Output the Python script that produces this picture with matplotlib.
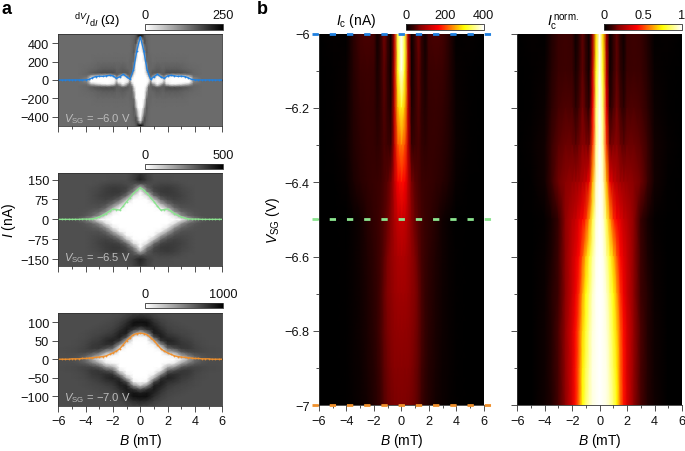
import numpy as np
import matplotlib
matplotlib.use('Agg')
import matplotlib.pyplot as plt
from matplotlib.colors import LinearSegmentedColormap

plt.rcParams['font.family'] = ['Liberation Sans', 'DejaVu Sans']
plt.rcParams['mathtext.fontset'] = 'custom'
plt.rcParams['mathtext.rm'] = 'Liberation Sans'
plt.rcParams['mathtext.it'] = 'Liberation Sans:italic'
plt.rcParams['font.size'] = 9.2

W, H = 685, 452

# panel a top, dV/dI in ohm, quarter map (B >= 0, I >= 0), mirrored below
b1_grid = [0, .15, .3, .45, .6, .75, .9, 1.25, 1.6, 1.75, 1.9, 2.3, 2.7, 3.1, 3.6, 3.9, 4.5, 5.2, 6]
i1_grid = [0, 20, 40, 60, 80, 120, 200, 300, 400, 440, 470, 490, 500]
z1 = [
    [0, 0, 0, 0, 5, 100, 20, 0, 10, 60, 5, 0, 0, 0, 0, 110, 145, 145, 145],
    [0, 0, 0, 0, 15, 125, 30, 0, 20, 90, 10, 0, 0, 0, 5, 125, 145, 145, 145],
    [0, 0, 0, 0, 60, 150, 110, 5, 90, 130, 40, 5, 10, 30, 70, 140, 145, 145, 145],
    [0, 0, 0, 10, 120, 150, 150, 70, 150, 155, 130, 95, 105, 115, 135, 150, 145, 145, 145],
    [0, 0, 0, 40, 150, 150, 165, 165, 160, 160, 175, 175, 175, 170, 160, 150, 145, 145, 145],
    [0, 0, 0, 75, 150, 150, 150, 160, 155, 155, 160, 160, 160, 155, 150, 148, 145, 145, 145],
    [0, 0, 5, 140, 150, 150, 145, 148, 148, 148, 148, 148, 148, 148, 145, 145, 145, 145, 145],
    [0, 0, 90, 165, 150, 145, 145, 145, 145, 145, 145, 145, 145, 145, 145, 145, 145, 145, 145],
    [0, 80, 170, 155, 148, 145, 145, 145, 145, 145, 145, 145, 145, 145, 145, 145, 145, 145, 145],
    [20, 120, 175, 155, 148, 145, 145, 145, 145, 145, 145, 145, 145, 145, 145, 145, 145, 145, 145],
    [120, 190, 165, 150, 148, 145, 145, 145, 145, 145, 145, 145, 145, 145, 145, 145, 145, 145, 145],
    [250, 215, 165, 150, 148, 145, 145, 145, 145, 145, 145, 145, 145, 145, 145, 145, 145, 145, 145],
    [240, 210, 165, 150, 148, 145, 145, 145, 145, 145, 145, 145, 145, 145, 145, 145, 145, 145, 145],
]

# panel a middle
b2_grid = [0, .5, 1, 1.5, 2, 2.5, 3, 3.5, 4, 4.5, 5, 6]
i2_grid = [0, 15, 30, 45, 60, 75, 90, 105, 120, 135, 150, 175]
z2 = [
    [0, 0, 0, 0, 0, 0, 20, 170, 270, 320, 345, 345],
    [0, 0, 0, 0, 0, 60, 220, 300, 330, 345, 345, 345],
    [0, 0, 0, 0, 40, 210, 300, 325, 340, 345, 345, 345],
    [0, 0, 0, 30, 170, 300, 340, 345, 345, 345, 345, 345],
    [0, 0, 10, 170, 290, 345, 355, 350, 345, 345, 345, 345],
    [0, 5, 120, 300, 355, 370, 365, 355, 345, 345, 345, 345],
    [0, 70, 290, 365, 380, 380, 370, 355, 345, 345, 345, 345],
    [10, 240, 355, 385, 390, 380, 365, 355, 345, 345, 345, 345],
    [140, 315, 370, 380, 385, 375, 360, 350, 345, 345, 345, 345],
    [340, 350, 355, 365, 365, 360, 350, 345, 345, 345, 345, 345],
    [430, 375, 350, 350, 350, 345, 345, 345, 345, 345, 345, 345],
    [400, 370, 345, 345, 345, 345, 345, 345, 345, 345, 345, 345],
]

# panel a bottom
b3_grid = [0, .5, 1, 1.5, 2, 2.5, 3, 3.5, 4, 4.5, 5, 6]
i3_grid = [0, 10, 20, 30, 40, 50, 60, 70, 80, 90, 100, 110, 125]
z3 = [
    [0, 0, 0, 0, 0, 0, 100, 340, 560, 660, 690, 700],
    [0, 0, 0, 0, 30, 80, 350, 520, 640, 680, 700, 700],
    [0, 0, 0, 0, 300, 400, 640, 710, 730, 720, 710, 700],
    [0, 0, 0, 100, 600, 700, 780, 780, 740, 720, 710, 700],
    [0, 0, 50, 450, 800, 820, 790, 770, 730, 710, 700, 700],
    [0, 5, 300, 780, 870, 830, 770, 750, 720, 710, 700, 700],
    [10, 60, 700, 880, 820, 790, 750, 730, 710, 700, 700, 700],
    [200, 450, 880, 870, 780, 750, 730, 720, 710, 700, 700, 700],
    [650, 800, 900, 820, 750, 730, 720, 710, 700, 700, 700, 700],
    [880, 920, 860, 780, 730, 720, 710, 700, 700, 700, 700, 700],
    [940, 930, 820, 750, 720, 710, 700, 700, 700, 700, 700, 700],
    [870, 840, 770, 730, 710, 700, 700, 700, 700, 700, 700, 700],
    [750, 740, 720, 700, 700, 700, 700, 700, 700, 700, 700, 700],
]

# extracted switching current lines, B >= 0 every 0.25 mT
line_b = [0, .25, .5, .75, 1, 1.25, 1.5, 1.75, 2, 2.25, 2.5, 2.75, 3, 3.25, 3.5, 3.75, 4,
          4.25, 4.5, 4.75, 5, 5.25, 5.5, 5.75, 6]
line_60 = [470, 320, 110, 8, 35, 62, 35, 18, 45, 50, 45, 40, 42, 38, 25, 6, 2,
           1, 1, 1, 1, 1, 0, 0, 0]
line_65 = [120, 110, 98, 82, 67, 50, 35, 37, 39, 31, 22, 15, 9, 5, 2, 1, 1,
           1, 0, 0, 0, 0, 0, 0, 0]
line_70 = [70, 69, 66, 58, 50, 39, 28, 22, 17, 13, 9, 7, 6, 5, 4, 3, 2,
           2, 1, 1, 1, 0, 0, 0, 0]

# panel b, Ic in nA, B >= 0
ic_b = [0, .25, .5, .75, 1, 1.25, 1.5, 1.75, 2, 2.5, 3, 3.5, 4, 5, 6]
ic_v = [-6, -6.1, -6.2, -6.3, -6.4, -6.5, -6.6, -6.7, -6.8, -6.9, -7]
ic_table = [
    [470, 330, 110, 8, 38, 65, 32, 12, 45, 48, 45, 27, 3, 4, 0],
    [400, 310, 120, 12, 35, 55, 34, 18, 40, 42, 40, 26, 5, 3, 0],
    [310, 265, 120, 22, 36, 50, 34, 24, 37, 38, 35, 24, 7, 2, 0],
    [235, 210, 115, 38, 42, 46, 37, 32, 36, 36, 32, 23, 8, 2, 0],
    [175, 165, 115, 68, 54, 48, 42, 40, 38, 34, 28, 18, 6, 1, 0],
    [125, 121, 103, 78, 60, 51, 45, 38, 35, 25, 12, 5, 1, 0, 0],
    [105, 103, 95, 83, 70, 56, 45, 38, 32, 21, 11, 5, 2, 0, 0],
    [95, 94, 90, 81, 72, 60, 46, 37, 30, 19, 10, 6, 2, 0, 0],
    [85, 84, 82, 76, 68, 59, 46, 37, 29, 18, 10, 5, 2, 0, 0],
    [77, 76, 75, 70, 64, 56, 43, 34, 26, 16, 9, 5, 2, 0, 0],
    [70, 69, 68, 65, 60, 53, 40, 31, 24, 14, 8, 4, 2, 0, 0],
]

b_ticks = [-6, -4, -2, 0, 2, 4, 6]
yt1 = [400, 200, 0, -200, -400]
yt2 = [150, 75, 0, -75, -150]
yt3 = [100, 50, 0, -50, -100]
v_ticks = [-6, -6.2, -6.4, -6.6, -6.8, -7]
v_labels = ['\u22126', '\u22126.2', '\u22126.4', '\u22126.6', '\u22126.8', '\u22127']

BLUE = '#1f80e0'
GREEN = '#8be58f'
ORANGE = '#f0902c'
TICK = '#333333'

hot2 = LinearSegmentedColormap.from_list(
    'hot2', [(0, 'black'), (.1, '#3a0000'), (.175, '#800000'), (.31, '#c80000'),
             (.42, '#ff0000'), (.75, '#ffff00'), (1, 'white')])


def add_ax(x0, y0, x1, y1):
    return fig.add_axes([x0 / W, 1 - y1 / H, (x1 - x0) / W, (y1 - y0) / H])


def mirror_x(b, z):
    b = np.asarray(b, float)
    z = np.asarray(z, float)
    return np.r_[-b[:0:-1], b], np.c_[z[:, :0:-1], z]


def mirror_y(i, z):
    i = np.asarray(i, float)
    return np.r_[-i[:0:-1], i], np.r_[z[:0:-1], z]


def style(ax, xlabels=False):
    ax.set_xlim(-6, 6)
    ax.set_xticks(b_ticks)
    ax.set_xticks(np.arange(-6, 7), minor=True)
    if not xlabels:
        ax.set_xticklabels([])
    ax.tick_params(which='major', length=4.2, width=.6, color=TICK, pad=2.5, labelcolor='#111111')
    ax.tick_params(which='minor', length=2.4, width=.6, color=TICK)
    for s in ax.spines.values():
        s.set_linewidth(.6)
        s.set_color(TICK)


def colorbar(mesh, x0, y0, x1, y1, ticks, labels):
    cax = add_ax(x0, y0, x1, y1)
    cb = fig.colorbar(mesh, cax=cax, orientation='horizontal')
    cb.set_ticks(ticks)
    cb.set_ticklabels(labels)
    cax.xaxis.set_ticks_position('top')
    cax.minorticks_off()
    cax.tick_params(length=0, pad=2.5, labelcolor='#111111')
    cb.outline.set_linewidth(.6)
    cb.outline.set_edgecolor(TICK)
    return cb


fig = plt.figure(figsize=(W / 100, H / 100), dpi=100)

# panel a
panels = [
    (35, 127, b1_grid, i1_grid, z1, 250, 500, yt1, line_60, BLUE, '\u22126.0', 25, 30.7, [0, 250]),
    (174, 266.7, b2_grid, i2_grid, z2, 500, 175, yt2, line_65, GREEN, '\u22126.5', 165, 170, [0, 500]),
    (313.7, 406.7, b3_grid, i3_grid, z3, 1000, 125, yt3, line_70, ORANGE, '\u22127.0', 304.3, 309.3, [0, 1000]),
]
for n, (top, bot, bg, ig, z, vmax, ilim, yt, line, col, vtxt, c0, c1, ct) in enumerate(panels):
    ax = add_ax(58.3, top, 222.3, bot)
    bx, zz = mirror_x(bg, z)
    iy, zz = mirror_y(ig, zz)
    mesh = ax.pcolormesh(bx, iy, zz, shading='gouraud', cmap='gray_r', vmin=0, vmax=vmax)
    lb, lz = mirror_x(line_b, [line])
    ax.plot(lb, lz[0], '-', color=col, lw=1.0, marker='o', ms=1.3, mew=0, alpha=.95)
    ax.set_ylim(-ilim, ilim)
    ax.set_yticks(yt)
    style(ax, xlabels=(n == 2))
    ax.text(.035, .09, '$V_{\\mathrm{SG}}$ = ' + vtxt + ' V', transform=ax.transAxes,
            color='#bdbdbd', fontsize=8.1, va='center', ha='left')
    colorbar(mesh, 145.3, c0, 223, c1, ct, [str(t) for t in ct])
    if n == 2:
        ax.set_xlabel('$B$ (mT)', fontsize=10, labelpad=3)

# panel b
bx, ic = mirror_x(ic_b, ic_table)
ic_v_arr = np.array(ic_v)
ic_norm = ic / ic.max(axis=1, keepdims=True)

ax_b = add_ax(319, 34.5, 483.7, 406.3)
m1 = ax_b.pcolormesh(bx, ic_v_arr, ic, shading='gouraud', cmap=hot2, vmin=0, vmax=400)
ax_c = add_ax(517.3, 34.5, 682, 406.3)
m2 = ax_c.pcolormesh(bx, ic_v_arr, ic_norm, shading='gouraud', cmap=hot2, vmin=0, vmax=1)
for ax in (ax_b, ax_c):
    ax.set_ylim(-7, -6)
    style(ax, xlabels=True)
    ax.set_yticks(v_ticks)
    ax.set_yticks(np.arange(-7, -5.95, .1), minor=True)
    ax.set_xlabel('$B$ (mT)', fontsize=10, labelpad=3)
    ax.spines['top'].set_visible(False)
    ax.spines['right'].set_visible(False)
ax_b.set_yticklabels(v_labels)
ax_c.set_yticklabels([])
ax_b.set_ylabel('$V_{\\mathrm{SG}}$ (V)', fontsize=10, labelpad=2)

for v, col in ((-6, BLUE), (-6.5, GREEN), (-7, ORANGE)):
    ax_b.plot([-6.5, 6.5], [v, v], color=col, lw=2.0, clip_on=False, zorder=5,
              dashes=(2.27, 3.93), dash_capstyle='butt')

colorbar(m1, 406, 25, 483.7, 30.7, [0, 200, 400], ['0', '200', '400'])
colorbar(m2, 604.3, 25, 682, 30.7, [0, .5, 1], ['0', '0.5', '1'])

# labels
fig.text(2 / W, 1 - 9 / H, 'a', fontsize=13, fontweight='bold', va='center')
fig.text(257 / W, 1 - 9 / H, 'b', fontsize=13, fontweight='bold', va='center')
fig.text(74 / W, 1 - 21 / H, r'$^{\mathrm{d}V}/_{\mathrm{d}I}\;$($\Omega$)', fontsize=9.4, va='center')
fig.text(336 / W, 1 - 21 / H, r'$I_{\mathrm{c}}$ (nA)', fontsize=10, va='center')
fig.text(547 / W, 1 - 22 / H, r'$I_{\mathrm{c}}^{\,\mathrm{norm.}}$', fontsize=10, va='center')
fig.text(9 / W, 1 - 220 / H, '$I$ (nA)', fontsize=10, rotation=90, va='center', ha='center')

fig.savefig('out.png', dpi=100)
